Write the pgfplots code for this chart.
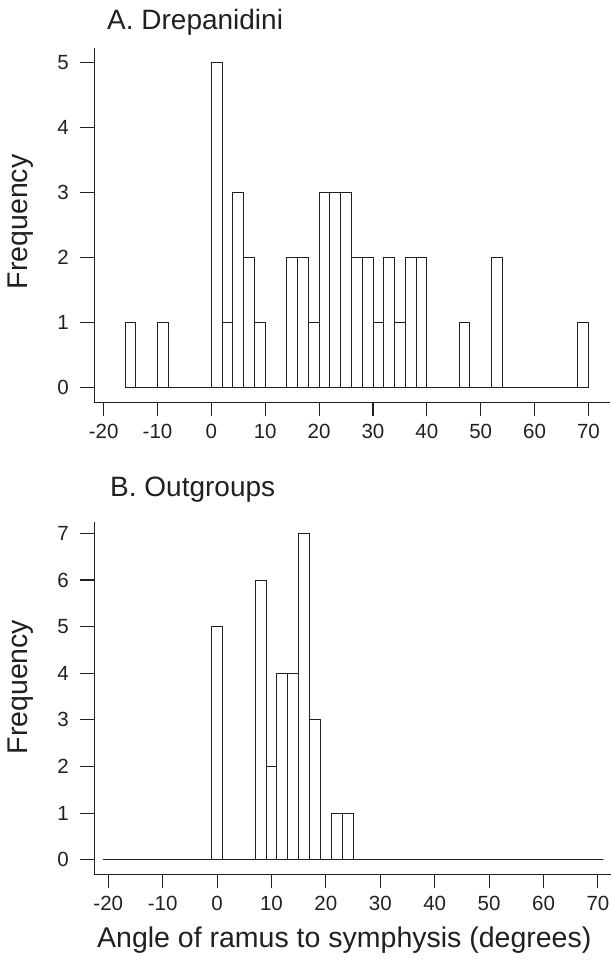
\documentclass[border=0pt]{standalone}
\usepackage{fontspec}
\setmainfont{Liberation Sans}
\usepackage{pgfplots}
\pgfplotsset{compat=1.18}
\definecolor{ink}{HTML}{231F20}

\pgfplotstableread{
x y
-16 1
-14 0
-12 0
-10 1
-8 0
-6 0
-4 0
-2 0
0 5
2 1
4 3
6 2
8 1
10 0
12 0
14 2
16 2
18 1
20 3
22 3
24 3
26 2
28 2
30 1
32 2
34 1
36 2
38 2
40 0
42 0
44 0
46 1
48 0
50 0
52 2
54 0
56 0
58 0
60 0
62 0
64 0
66 0
68 1
70 0
}\drepanidini

\pgfplotstableread{
x y
-21 0
-19 0
-17 0
-15 0
-13 0
-11 0
-9 0
-7 0
-5 0
-3 0
-1 5
1 0
3 0
5 0
7 6
9 2
11 4
13 4
15 7
17 3
19 0
21 1
23 1
25 0
27 0
29 0
31 0
33 0
35 0
37 0
39 0
41 0
43 0
45 0
47 0
49 0
51 0
53 0
55 0
57 0
59 0
61 0
63 0
65 0
67 0
69 0
71 0
}\outgroups

\pgfplotsset{
  histax/.style={
    scale only axis,
    axis x line*=bottom, axis y line*=left,
    axis line style={ink, line width=1.1pt, -},
    tick align=outside,
    major tick length=14pt,
    tick style={ink, line width=1.1pt},
    xtick={-20,-10,...,70},
    xticklabels={-20,-10,0,10,20,30,40,50,60,70},
    /pgf/number format/assume math mode=true,
    tick label style={font=\fontsize{20.5}{24}\selectfont, text=ink},
    xticklabel style={yshift=-4pt},
    yticklabel style={xshift=-8pt},
    every axis title/.style={anchor=base west, inner sep=0pt, font=\fontsize{28}{32}\selectfont, text=ink},
  }
}

\begin{document}
\begin{tikzpicture}
\path[use as bounding box] (0,0) rectangle (612pt,963pt);

\begin{axis}[histax,
  at={(94.3pt,560.7pt)}, anchor=south west,
  width=515.7pt, height=354.3pt,
  xmin=-21.73, xmax=74.0, ymin=-0.233, ymax=5.23,
  ytick={0,1,2,3,4,5},
  title={A. Drepanidini},
  title style={at={(axis description cs:0.0246,1.0528)}},
  ylabel={Frequency},
  every axis y label/.style={at={(axis description cs:-0.1425,0.509)}, rotate=90, anchor=center, font=\fontsize{28.5}{32}\selectfont, text=ink},
]
\addplot[ybar interval, fill=white, draw=ink, line width=0.9pt] table[x=x,y=y] {\drepanidini};
\end{axis}

\begin{axis}[histax,
  at={(94.3pt,88.7pt)}, anchor=south west,
  width=516.4pt, height=352.6pt,
  xmin=-22.57, xmax=72.35, ymin=-0.31, ymax=7.25,
  ytick={0,1,2,3,4,5,6,7},
  title={B. Outgroups},
  title style={at={(axis description cs:0.0304,1.0709)}},
  ylabel={Frequency},
  every axis y label/.style={at={(axis description cs:-0.1423,0.531)}, rotate=90, anchor=center, font=\fontsize{28.5}{32}\selectfont, text=ink},
  xlabel={Angle of ramus to symphysis (degrees)},
  every axis x label/.style={at={(axis description cs:0.0052,-0.209)}, anchor=base west, inner sep=0pt, font=\fontsize{28.5}{32}\selectfont, text=ink},
]
\addplot[ybar interval, fill=white, draw=ink, line width=0.9pt] table[x=x,y=y] {\outgroups};
\end{axis}
\end{tikzpicture}
\end{document}
